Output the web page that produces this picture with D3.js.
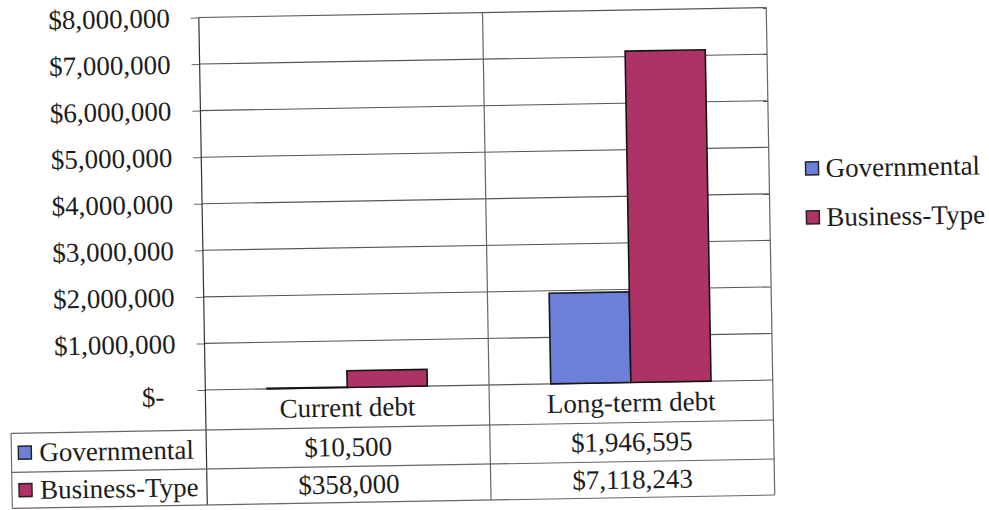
<!DOCTYPE html>
<html>
<head>
<meta charset="utf-8">
<script src="https://cdn.jsdelivr.net/npm/d3@7"></script>
<style>
  body { margin: 0; background: #fff; }
  text { font-family: 'Liberation Serif'; fill: #1c1c1c; }
</style>
</head>
<body>
<script>
// chart data
const categories = ["Current debt", "Long-term debt"];
const seriesNames = ["Governmental", "Business-Type"];
const governmental = [10500, 1946595];
const businessType = [358000, 7118243];
const yTicks = [0, 1000000, 2000000, 3000000, 4000000, 5000000, 6000000, 7000000, 8000000];
const seriesColors = ["#6c80da", "#ad3266"];

const svgWidth = 989;
const svgHeight = 510;
const plotLeft = 203, plotRight = 770.5; // plot area (before the tilt)
const plotTop = 12.5, plotBottom = 385;
const rowBottoms = [425, 464, 500]; // data table rows under the axis
const tableLeft = 8;
const tilt = -1; // the source is a scan, slightly rotated
const fontSize = "27px";

const seriesValues = [governmental, businessType];
const money = d3.format("$,");

const svg = d3.select("body").append("svg")
  .attr("width", svgWidth)
  .attr("height", svgHeight);
const chart = svg.append("g")
  .attr("transform", "rotate(" + tilt + ",488,255)");

const yScale = d3.scaleLinear().domain([0, 8000000]).range([plotBottom, plotTop]);
const xScale = d3.scaleBand().domain(categories).range([plotLeft, plotRight]);
const xSub = d3.scaleBand().domain(seriesNames).range([0, xScale.bandwidth()]).paddingOuter(0.77);

drawGrid();
drawBars();
drawTable();
drawLegend();

function drawGrid() {
  chart.selectAll(".grid").data(yTicks).enter().append("line")
    .attr("class", "grid")
    .attr("x1", plotLeft).attr("x2", plotRight)
    .attr("y1", d => yScale(d)).attr("y2", d => yScale(d))
    .attr("stroke", "#555").attr("stroke-width", 1.1);

  const yAxis = d3.axisLeft(yScale)
    .tickValues(yTicks)
    .tickFormat(d => d === 0 ? "$-" : money(d))
    .tickSizeInner(8).tickSizeOuter(0).tickPadding(21);
  const ax = chart.append("g")
    .attr("transform", "translate(" + plotLeft + ",0)")
    .call(yAxis);
  ax.attr("font-family", null).attr("font-size", null);
  ax.select(".domain").remove();
  ax.selectAll(".tick line").attr("stroke", "#666");
  ax.selectAll(".tick text").style("font-size", fontSize)
    .attr("dx", d => d === 0 ? -12 : 0)
    .attr("dy", d => d === 0 ? "0.55em" : "0.32em");

  // vertical lines: axis, category divider, right border (run down through the table)
  const xs = [plotLeft, xScale(categories[1]), plotRight];
  chart.selectAll(".vline").data(xs).enter().append("line")
    .attr("class", "vline")
    .attr("x1", d => d).attr("x2", d => d)
    .attr("y1", plotTop).attr("y2", rowBottoms[2])
    .attr("stroke", (d, i) => i === 0 ? "#333" : "#666")
    .attr("stroke-width", 1.2);
}

function drawBars() {
  seriesNames.forEach((s, si) => {
    chart.selectAll(".bar" + si).data(seriesValues[si]).enter().append("rect")
      .attr("class", "bar" + si)
      .attr("x", (d, i) => xScale(categories[i]) + xSub(s))
      .attr("y", d => yScale(d))
      .attr("width", xSub.bandwidth())
      .attr("height", d => plotBottom - yScale(d))
      .attr("fill", seriesColors[si])
      .attr("stroke", "#151515")
      .attr("stroke-width", 1.6);
  });
}

function drawTable() {
  rowBottoms.forEach(y => {
    chart.append("line")
      .attr("x1", tableLeft).attr("x2", plotRight)
      .attr("y1", y).attr("y2", y)
      .attr("stroke", "#666").attr("stroke-width", 1.1);
  });
  chart.append("line")
    .attr("x1", tableLeft).attr("x2", tableLeft)
    .attr("y1", rowBottoms[0]).attr("y2", rowBottoms[2])
    .attr("stroke", "#666").attr("stroke-width", 1.1);

  // category header row
  chart.selectAll(".cat").data(categories).enter().append("text")
    .attr("class", "cat")
    .attr("x", d => xScale(d) + xScale.bandwidth() / 2)
    .attr("y", (plotBottom + rowBottoms[0]) / 2)
    .attr("text-anchor", "middle")
    .attr("dominant-baseline", "central")
    .style("font-size", fontSize)
    .text(d => d);

  seriesNames.forEach((s, si) => {
    const mid = (rowBottoms[si] + rowBottoms[si + 1]) / 2;
    chart.append("rect")
      .attr("x", 15).attr("y", mid - 6.5)
      .attr("width", 13).attr("height", 13)
      .attr("fill", seriesColors[si])
      .attr("stroke", "#222").attr("stroke-width", 1.4);
    chart.append("text")
      .attr("x", 36).attr("y", mid)
      .attr("dominant-baseline", "central")
      .style("font-size", fontSize)
      .text(s);
    chart.selectAll(".val" + si).data(seriesValues[si]).enter().append("text")
      .attr("class", "val" + si)
      .attr("x", (d, i) => xScale(categories[i]) + xScale.bandwidth() / 2)
      .attr("y", mid)
      .attr("text-anchor", "middle")
      .attr("dominant-baseline", "central")
      .style("font-size", fontSize)
      .text(d => money(d));
  });
}

function drawLegend() {
  const legendY = [174, 223];
  seriesNames.forEach((s, si) => {
    chart.append("rect")
      .attr("x", 807).attr("y", legendY[si] - 6.5)
      .attr("width", 13).attr("height", 13)
      .attr("fill", seriesColors[si])
      .attr("stroke", "#222").attr("stroke-width", 1.4);
    chart.append("text")
      .attr("x", 827).attr("y", legendY[si])
      .attr("dominant-baseline", "central")
      .style("font-size", fontSize)
      .text(s);
  });
}
</script>
</body>
</html>
